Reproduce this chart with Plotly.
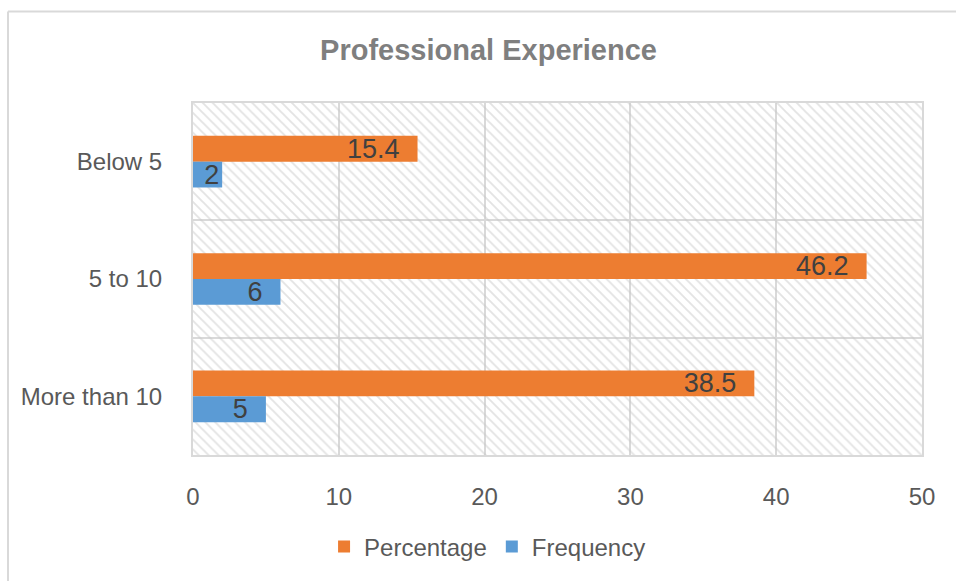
import plotly.graph_objects as go

categories = ["Below 5", "5 to 10", "More than 10"]
percentage = [15.4, 46.2, 38.5]
frequency = [2, 6, 5]
x_ticks = [0, 10, 20, 30, 40, 50]

ORANGE = "#ED7D31"
BLUE = "#5B9BD5"
GRID = "#D9D9D9"
FONT = "Liberation Sans, Arial, sans-serif"

W, H = 956, 581
L, R, T, B = 193, 34, 103, 126
pw, ph = W - L - R, H - T - B

def px_x(p):
    return (p - L) / pw

def px_y(p):
    return (H - B - p) / ph

pad = "\u00a0\u00a0"

fig = go.Figure()

# hatched plot background on hidden base axes
fig.add_trace(go.Scatter(
    x=[0, 1, 1, 0, 0], y=[0, 0, 1, 1, 0], xaxis="x", yaxis="y",
    mode="lines", line=dict(width=0), fill="toself",
    fillcolor="rgba(0,0,0,0)",
    fillpattern=dict(shape="\\", fgcolor="#C8C8C8", bgcolor="rgba(0,0,0,0)",
                     size=7, solidity=0.27),
    hoverinfo="skip", showlegend=False))

fig.add_trace(go.Bar(
    name="Percentage", y=categories, x=percentage, orientation="h",
    xaxis="x2", yaxis="y2", marker=dict(color=ORANGE, line=dict(width=0)),
    text=[f"{v}{pad}" for v in percentage], textposition="inside",
    insidetextanchor="end", constraintext="none", textangle=0,
    textfont=dict(family=FONT, size=27, color="#404040")))

fig.add_trace(go.Bar(
    name="Frequency", y=categories, x=frequency, orientation="h",
    xaxis="x2", yaxis="y2", marker=dict(color=BLUE, line=dict(width=0)),
    text=[f"{v}" if v < 3 else f"{v}{pad}" for v in frequency], textposition="inside",
    insidetextanchor="end", constraintext="none", textangle=0,
    textfont=dict(family=FONT, size=27, color="#404040")))

fig.update_layout(
    width=W, height=H,
    margin=dict(l=L, r=R, t=T, b=B),
    paper_bgcolor="white", plot_bgcolor="white",
    font=dict(family=FONT, color="#595959", size=24),
    barmode="group", bargap=0.56, bargroupgap=0,
    title=dict(text="<b>Professional Experience</b>", xref="container", x=0.511,
               xanchor="center", yref="container", y=1 - 50 / H, yanchor="middle",
               font=dict(family=FONT, size=29, color="#7F7F7F")),
    xaxis=dict(range=[0, 1], visible=False, fixedrange=True),
    yaxis=dict(range=[0, 1], visible=False, fixedrange=True),
    xaxis2=dict(overlaying="x", anchor="y2", range=[0, 50], tickvals=x_ticks,
                showgrid=True, gridcolor=GRID, gridwidth=2,
                showline=True, linecolor=GRID, linewidth=2, mirror=True,
                zeroline=False, ticks="", ticklabelstandoff=19,
                tickfont=dict(size=24, color="#595959")),
    yaxis2=dict(overlaying="y", anchor="x2", type="category",
                autorange="reversed", tickson="boundaries",
                showgrid=True, gridcolor=GRID, gridwidth=2,
                showline=True, linecolor=GRID, linewidth=2, mirror=True,
                ticks="", ticklabelstandoff=24,
                tickfont=dict(size=24, color="#595959")),
    legend=dict(orientation="h", xref="container", x=0.51, xanchor="center",
                yref="container", y=1 - 547 / H, yanchor="middle",
                font=dict(size=24, color="#595959"), itemwidth=30,
                bgcolor="rgba(0,0,0,0)", traceorder="normal"),
    shapes=[
        dict(type="line", xref="paper", yref="paper",
             x0=px_x(8), x1=px_x(1200), y0=px_y(11.5), y1=px_y(11.5),
             line=dict(color=GRID, width=2)),
        dict(type="line", xref="paper", yref="paper",
             x0=px_x(8), x1=px_x(8), y0=px_y(11.5), y1=px_y(900),
             line=dict(color=GRID, width=2)),
    ],
)

fig.write_html("out.html")
